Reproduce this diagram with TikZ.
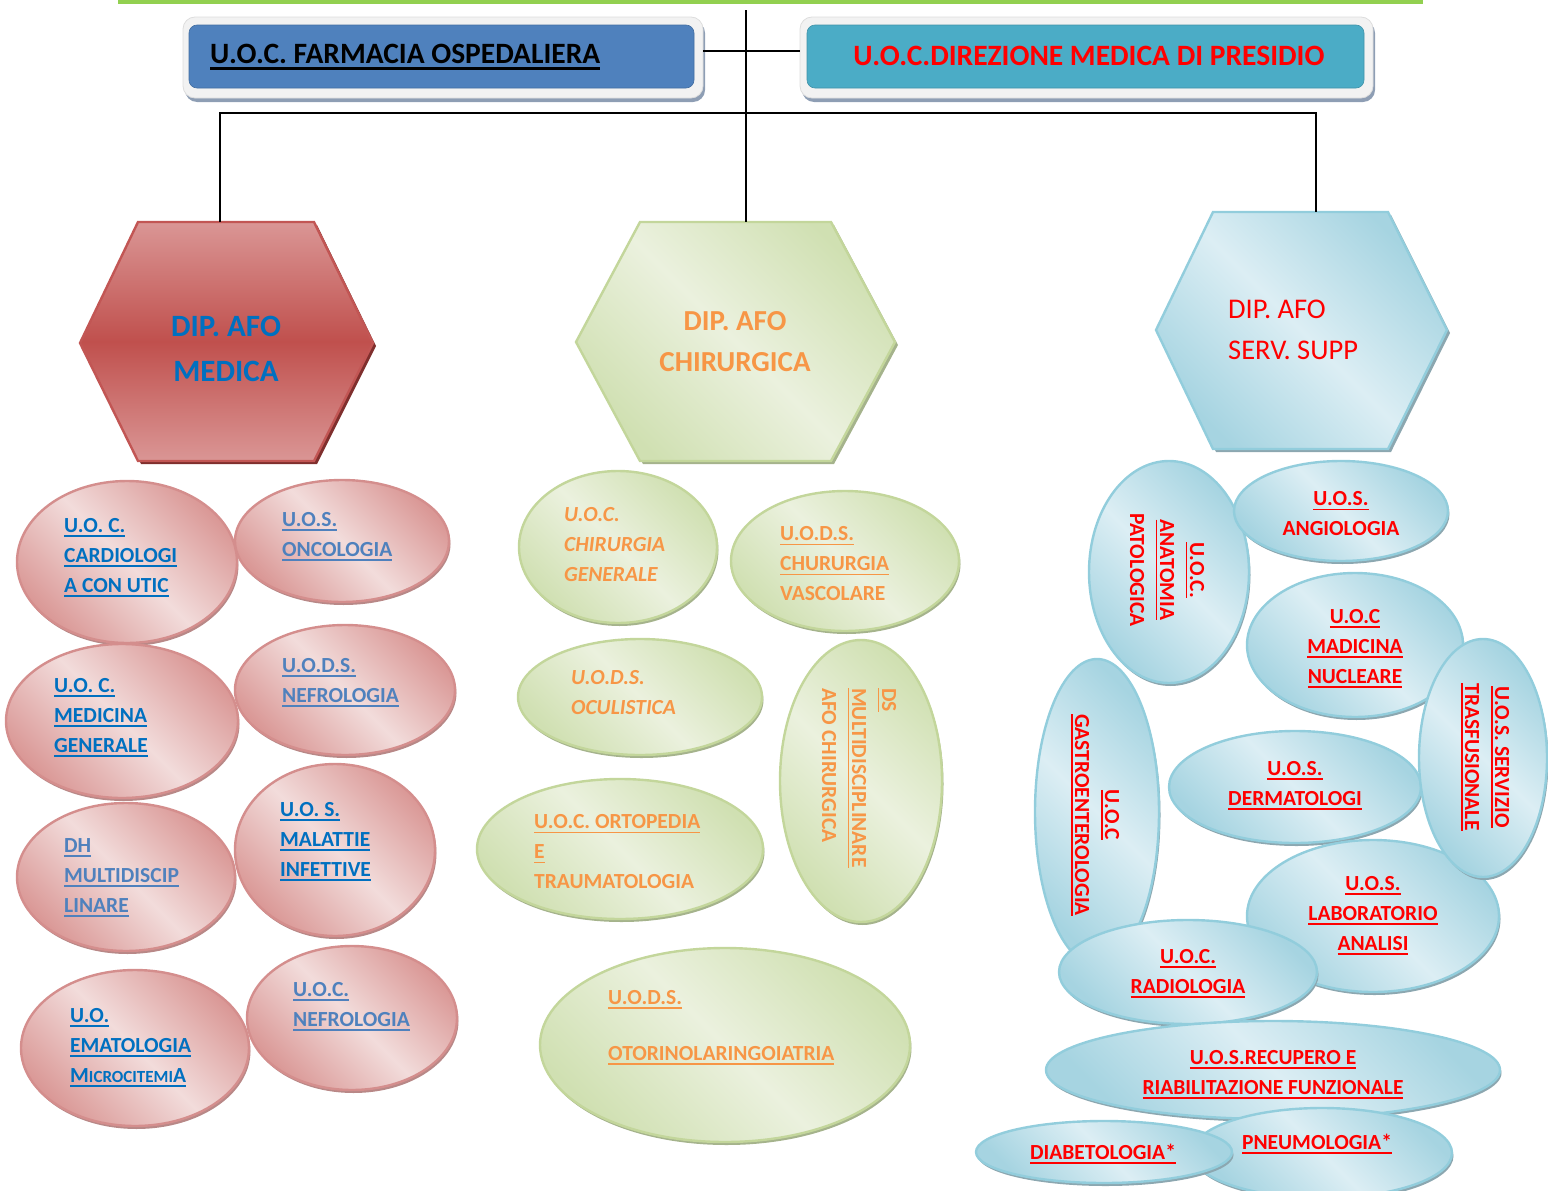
\documentclass[tikz,border=0pt]{standalone}
\usepackage{fontspec}
\setmainfont{Carlito}
\usetikzlibrary{shapes.geometric,shadows}

\definecolor{barg}{HTML}{92D050}
\definecolor{boxgrey}{HTML}{F2F2F2}
\definecolor{boxedge}{HTML}{DDDDDD}
\definecolor{boxshadow}{HTML}{8E9EB4}
\definecolor{farmblue}{HTML}{4F81BD}
\definecolor{dirblue}{HTML}{4BACC6}
\definecolor{tdblue}{HTML}{0070C0}
\definecolor{tlblue}{HTML}{4F81BD}
\definecolor{torange}{HTML}{F79646}
\definecolor{tred}{HTML}{FF0000}
% red family
\definecolor{rhlight}{HTML}{DA9695}
\definecolor{rhdark}{HTML}{C0504D}
\definecolor{rhline}{HTML}{C25654}
\definecolor{rhshadow}{HTML}{7F2F2D}
\definecolor{rlight}{HTML}{F2DCDB}
\definecolor{rdark}{HTML}{DA9896}
\definecolor{rline}{HTML}{D48E8D}
\definecolor{rshadow}{HTML}{B88887}
% green family
\definecolor{glight}{HTML}{EBF1DE}
\definecolor{gdark}{HTML}{D0E0B2}
\definecolor{gline}{HTML}{C3D69B}
\definecolor{gshadow}{HTML}{A5B38C}
% blue family
\definecolor{blight}{HTML}{DCEEF4}
\definecolor{bdark}{HTML}{A6D4E1}
\definecolor{bline}{HTML}{92CDDC}
\definecolor{bshadow}{HTML}{8CA7B0}

\newcommand\efont{\fontsize{21.5}{30}\selectfont\bfseries}
% underline drawn as a rule in the current colour
\newsavebox\ulbox
\newcommand\ulx[1]{\sbox\ulbox{#1}\leavevmode\rlap{\rule[-0.2em]{\wd\ulbox}{0.08em}}\usebox\ulbox}

\tikzset{
  conn/.style={draw=black, line width=1.7pt},
  topframe/.style={rectangle, rounded corners=12pt, fill=boxgrey, draw=boxedge,
    line width=0.8pt, inner sep=0pt,
    drop shadow={shadow xshift=2pt, shadow yshift=-4pt, fill=boxshadow, opacity=1}},
  topfill/.style={rectangle, rounded corners=8pt, inner sep=0pt, line width=0.6pt},
  boxtxt/.style={inner sep=0pt, font=\fontsize{29.5}{34}\selectfont\bfseries},
  hextxt/.style={inner sep=0pt, font=\fontsize{31}{45}\selectfont\bfseries, align=center},
  redell/.style={ellipse, inner sep=0pt, draw=rline, line width=2.4pt,
    top color=rdark, bottom color=rdark, middle color=rlight, shading angle=-45,
    drop shadow={shadow xshift=1.5pt, shadow yshift=-3pt, fill=rshadow, opacity=1}},
  grnell/.style={ellipse, inner sep=0pt, draw=gline, line width=2.4pt,
    top color=gdark, bottom color=gdark, middle color=glight, shading angle=-45,
    drop shadow={shadow xshift=1.5pt, shadow yshift=-3pt, fill=gshadow, opacity=1}},
  bluell/.style={ellipse, inner sep=0pt, draw=bline, line width=2.4pt,
    top color=bdark, bottom color=bdark, middle color=blight, shading angle=-45,
    drop shadow={shadow xshift=1.5pt, shadow yshift=-3pt, fill=bshadow, opacity=1}},
  ltxt/.style={inner sep=0pt, font=\efont, align=left, anchor=west},
  ctxt/.style={inner sep=0pt, font=\efont, align=center},
  vtxt/.style={inner sep=0pt, font=\efont, rotate=-90},
}

\begin{document}
\begin{tikzpicture}[x=1pt,y=-1pt]
\useasboundingbox (0,0) rectangle (1548,1191);

% green rule along the top
\coordinate (bar-l) at (118,2);
\coordinate (bar-r) at (1423,2);
\draw[barg, line width=4.5pt] (bar-l) -- (bar-r);

% ---------- top boxes ----------
\node[topframe, minimum width=520pt, minimum height=81pt] (farm) at (443,57.5) {};
\node[topfill, fill=farmblue, draw=farmblue!85!black, minimum width=505pt, minimum height=63pt] (farmin) at (441.5,56.5) {};
\node[boxtxt, anchor=west, text=black] (farmtxt) at (210,57) {\ulx{U.O.C. FARMACIA OSPEDALIERA}};

\node[topframe, minimum width=573pt, minimum height=81pt] (dir) at (1086.5,57.5) {};
\node[topfill, fill=dirblue, draw=dirblue!85!black, minimum width=557pt, minimum height=63pt] (dirin) at (1085.5,56.5) {};
\node[boxtxt, text=tred] (dirtxt) at (1089,56) {U.O.C.DIREZIONE MEDICA DI PRESIDIO};

% ---------- department hexagons ----------
\draw[line width=2.4pt, draw=rhline, top color=rhlight, bottom color=rhlight, middle color=rhdark,
  drop shadow={shadow xshift=3pt, shadow yshift=-3pt, fill=rhshadow, opacity=1}]
  (138,222) -- (314,222) -- (373,343) -- (314,461) -- (138,461) -- (80,343) -- cycle;
\coordinate (hm-top) at (220,222);
\node[hextxt, text=tdblue] (hexmed) at (226,349) {DIP. AFO\\MEDICA};

\draw[line width=2.4pt, draw=gline, top color=gdark, bottom color=gdark, middle color=glight, shading angle=-45,
  drop shadow={shadow xshift=3pt, shadow yshift=-3pt, fill=gshadow, opacity=1}]
  (640,222) -- (831,222) -- (895,342) -- (831,461) -- (640,461) -- (576,342) -- cycle;
\coordinate (hc-top) at (746,222);
\node[hextxt, font=\fontsize{29}{41}\selectfont\bfseries, text=torange] (hexchir) at (735,342) {DIP. AFO\\CHIRURGICA};

\draw[line width=2.4pt, draw=bline, top color=bdark, bottom color=bdark, middle color=blight, shading angle=-45,
  drop shadow={shadow xshift=3pt, shadow yshift=-3pt, fill=bshadow, opacity=1}]
  (1213,212) -- (1388,212) -- (1447,330) -- (1388,449) -- (1213,449) -- (1156,330) -- cycle;
\coordinate (hs-top) at (1316,212);
\node[inner sep=0pt, font=\fontsize{28.5}{41}\selectfont, align=left, anchor=west, text=tred] (hexserv) at (1228,330) {DIP. AFO\\SERV. SUPP};

% ---------- connectors ----------
\coordinate (trunk) at (746,10);
\coordinate (bus-l) at (220,113);
\coordinate (bus-r) at (1316,113);
\draw[conn] (trunk) -- (hc-top);
\draw[conn] ([yshift=6.5pt]farm.east) -- ([yshift=6.5pt]dir.west);
\draw[conn] (hm-top) -- (bus-l) -- (bus-r) -- (hs-top);

% ---------- medical department units ----------
\node[redell, minimum width=220pt, minimum height=162pt] (card) at (127,562) {};
\node[ltxt, text=tdblue] (cardt) at (64,558) {\ulx{U.O. C.}\\\ulx{CARDIOLOGI}\\\ulx{A CON UTIC}};

\node[redell, minimum width=214pt, minimum height=122pt] (onco) at (342,541) {};
\node[ltxt, text=tlblue] (oncot) at (282,537) {\ulx{U.O.S.}\\\ulx{ONCOLOGIA}};

\node[redell, minimum width=232pt, minimum height=154pt] (medgen) at (122,721) {};
\node[ltxt, text=tdblue] (medgent) at (54,718) {\ulx{U.O. C.}\\\ulx{MEDICINA}\\\ulx{GENERALE}};

\node[redell, minimum width=220pt, minimum height=130pt] (nefa) at (345,690) {};
\node[ltxt, text=tlblue] (nefat) at (282,683) {\ulx{U.O.D.S.}\\\ulx{NEFROLOGIA}};

\node[redell, minimum width=218pt, minimum height=148pt] (dh) at (126,877) {};
\node[ltxt, text=tlblue] (dht) at (64,878) {\ulx{DH}\\\ulx{MULTIDISCIP}\\\ulx{LINARE}};

\node[redell, minimum width=200pt, minimum height=172pt] (malinf) at (335,850) {};
\node[ltxt, text=tdblue] (malinft) at (280,842) {\ulx{U.O. S.}\\\ulx{MALATTIE}\\\ulx{INFETTIVE}};

\node[redell, minimum width=228pt, minimum height=156pt] (emato) at (135,1048) {};
\node[ltxt, text=tdblue] (ematot) at (70,1048) {\ulx{U.O.}\\\ulx{EMATOLOGIA}\\\ulx{M{\fontsize{17}{30}\selectfont ICROCITEMI}A}};

\node[redell, minimum width=210pt, minimum height=144pt] (nefb) at (352,1018) {};
\node[ltxt, text=tlblue] (nefbt) at (293,1007) {\ulx{U.O.C.}\\\ulx{NEFROLOGIA}};

% ---------- surgical department units ----------
\node[grnell, minimum width=198pt, minimum height=152pt] (chg) at (618,547) {};
\node[ltxt, font=\efont\itshape, text=torange] (chgt) at (564,545) {U.O.C.\\CHIRURGIA\\GENERALE};

\node[grnell, minimum width=228pt, minimum height=140pt] (vasc) at (845,561) {};
\node[ltxt, text=torange] (vasct) at (780,564) {\ulx{U.O.D.S.}\\\ulx{CHURURGIA}\\VASCOLARE};

\node[grnell, minimum width=244pt, minimum height=116pt] (ocul) at (640,697) {};
\node[ltxt, font=\efont\itshape, text=torange] (ocult) at (571,693) {U.O.D.S.\\OCULISTICA};

\node[grnell, minimum width=286pt, minimum height=140pt] (orto) at (620,849) {};
\node[ltxt, text=torange] (ortot) at (534,852) {\ulx{U.O.C. ORTOPEDIA}\\\ulx{E}\\TRAUMATOLOGIA};

\node[grnell, minimum width=162pt, minimum height=282pt] (dsm) at (861,781) {};
\node[vtxt, align=left, anchor=west, text=torange] (dsmt) at (859,688) {\ulx{DS}\\\ulx{MULTIDISCIPLINARE}\\AFO CHIRURGICA};

\node[grnell, minimum width=370pt, minimum height=194pt] (otor) at (725,1045) {};
\node[ltxt, text=torange] (otort) at (608,1028) {\ulx{U.O.D.S.}\\[26pt]\ulx{OTORINOLARINGOIATRIA}};

% ---------- support services units ----------
\node[bluell, minimum width=160pt, minimum height=222pt] (anat) at (1169,572) {};
\node[vtxt, align=center, text=tred] (anatt) at (1167,570) {\ulx{U.O.C.}\\\ulx{ANATOMIA}\\PATOLOGICA};

\node[bluell, minimum width=214pt, minimum height=100pt] (angio) at (1341,511) {};
\node[ctxt, text=tred] (angiot) at (1341,514) {\ulx{U.O.S.}\\ANGIOLOGIA};

\node[bluell, minimum width=216pt, minimum height=144pt] (nucl) at (1355,645) {};
\node[ctxt, text=tred] (nuclt) at (1355,649) {\ulx{U.O.C}\\\ulx{MADICINA}\\\ulx{NUCLEARE}};

\node[bluell, minimum width=124pt, minimum height=306pt] (gastro) at (1097,812) {};
\node[vtxt, align=center, text=tred] (gastrot) at (1095,815) {\ulx{U.O.C}\\\ulx{GASTROENTEROLOGIA}};

\node[bluell, minimum width=252pt, minimum height=112pt] (derm) at (1295,787) {};
\node[ctxt, text=tred] (dermt) at (1295,786) {\ulx{U.O.S.}\\\ulx{DERMATOLOGI}};

\node[bluell, minimum width=252pt, minimum height=152pt] (lab) at (1373,916) {};
\node[ctxt, text=tred] (labt) at (1373,916) {\ulx{U.O.S.}\\\ulx{LABORATORIO}\\\ulx{ANALISI}};

\node[bluell, minimum width=128pt, minimum height=238pt] (trasf) at (1483,758) {};
\node[vtxt, align=center, text=tred] (trasft) at (1485,757) {\ulx{U.O.S. SERVIZIO}\\\ulx{TRASFUSIONALE}};

\node[bluell, minimum width=258pt, minimum height=104pt] (radio) at (1188,972) {};
\node[ctxt, text=tred] (radiot) at (1188,974) {\ulx{U.O.C.}\\\ulx{RADIOLOGIA}};

\node[bluell, minimum width=454pt, minimum height=98pt] (recup) at (1273,1070) {};
\node[ctxt, text=tred] (recupt) at (1273,1075) {\ulx{U.O.S.RECUPERO E}\\\ulx{RIABILITAZIONE FUNZIONALE}};

\node[bluell, minimum width=260pt, minimum height=90pt] (pneu) at (1322,1153) {};
\node[ctxt, text=tred] (pneut) at (1317,1144) {\ulx{PNEUMOLOGIA*}};

\node[bluell, minimum width=256pt, minimum height=62pt] (diab) at (1104,1152) {};
\node[ctxt, text=tred] (diabt) at (1103,1154) {\ulx{DIABETOLOGIA*}};

\end{tikzpicture}
\end{document}
